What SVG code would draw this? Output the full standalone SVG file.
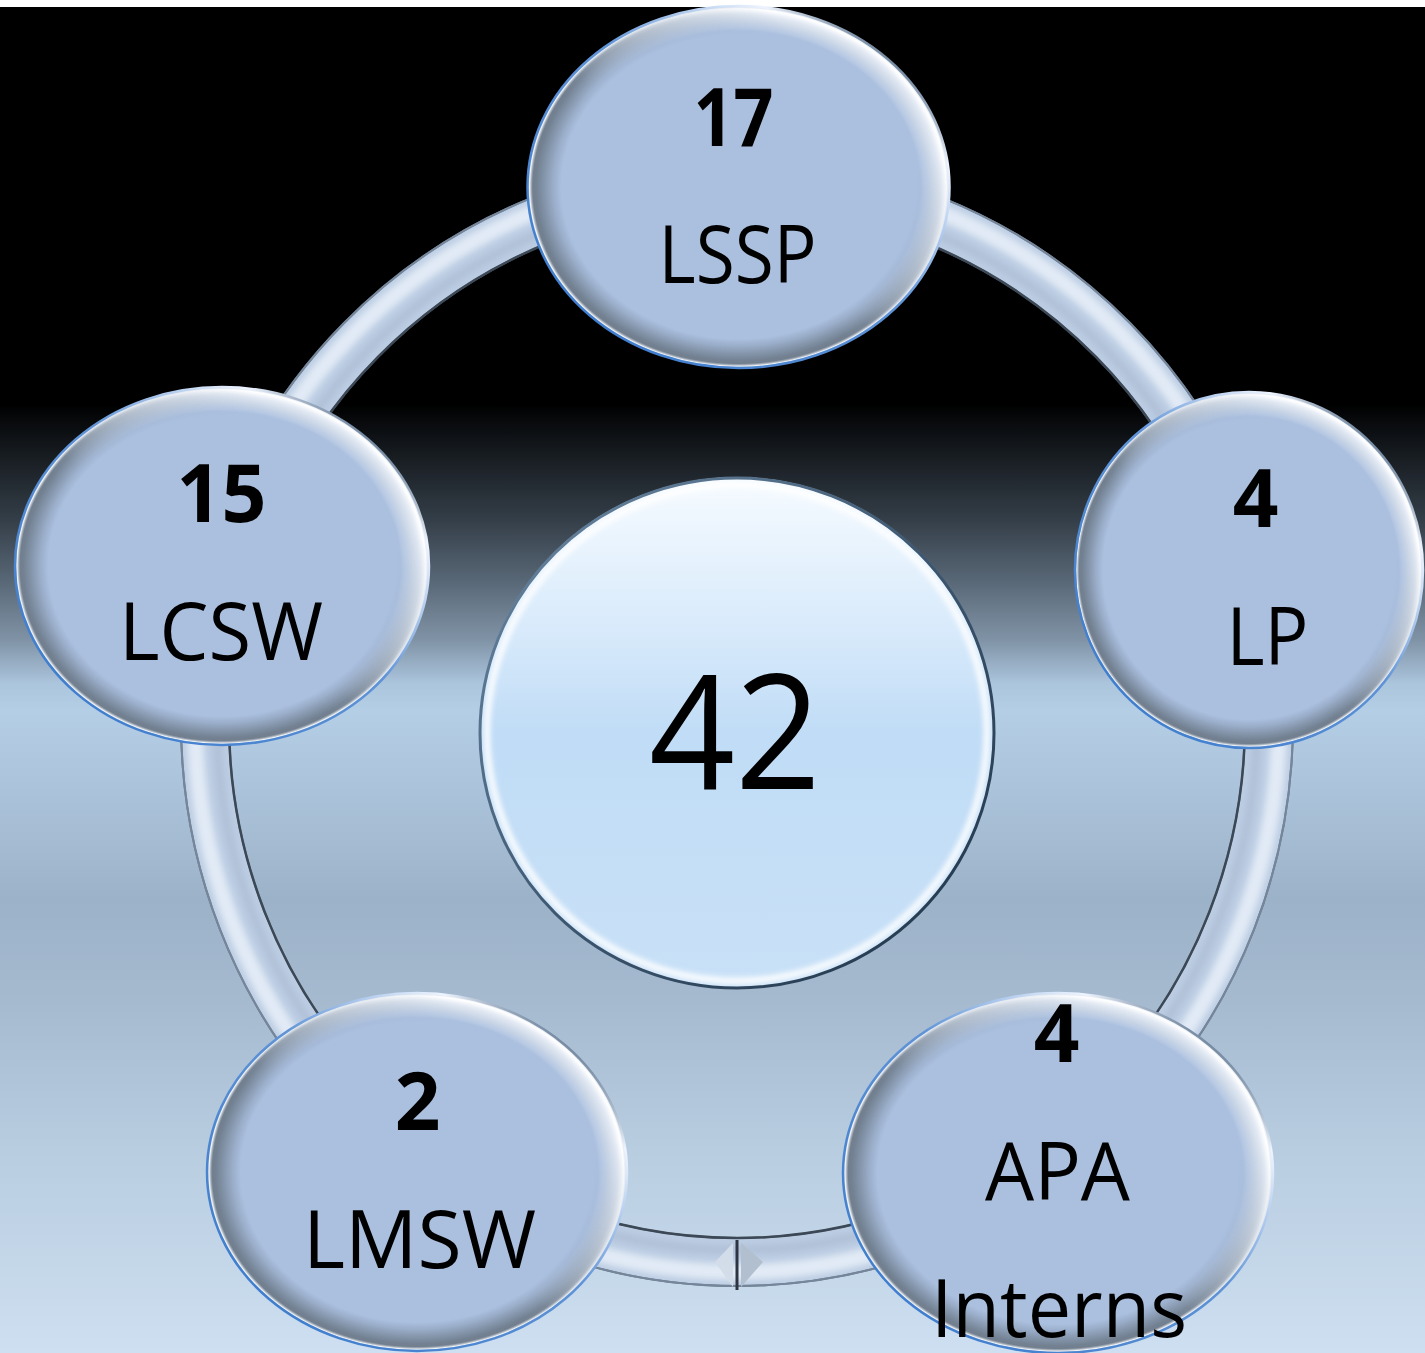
<svg xmlns="http://www.w3.org/2000/svg" width="1425" height="1353" viewBox="0 0 1425 1353">
  <defs>
    <!-- page backdrop: white strip, black top, banded fade to pale blue -->
    <linearGradient id="bg" gradientUnits="userSpaceOnUse" x1="0" y1="0" x2="0" y2="1353">
      <stop offset="0" stop-color="#000"/>
      <stop offset="0.299" stop-color="#000"/>
      <stop offset="0.31" stop-color="#07090b"/>
      <stop offset="0.347" stop-color="#1d2329"/>
      <stop offset="0.384" stop-color="#343e48"/>
      <stop offset="0.429" stop-color="#586776"/>
      <stop offset="0.473" stop-color="#8093a6"/>
      <stop offset="0.505" stop-color="#abc5dd"/>
      <stop offset="0.525" stop-color="#b4cee6"/>
      <stop offset="0.591" stop-color="#aac2d9"/>
      <stop offset="0.665" stop-color="#9cb2c8"/>
      <stop offset="0.739" stop-color="#a5bacf"/>
      <stop offset="0.85" stop-color="#b9cde1"/>
      <stop offset="1" stop-color="#cddff0"/>
    </linearGradient>

    <!-- small node body -->
    <radialGradient id="nodeFill" cx="0.5" cy="0.5" r="0.5">
      <stop offset="0" stop-color="#abc0df"/>
      <stop offset="0.88" stop-color="#abc0df"/>
      <stop offset="0.96" stop-color="#a2b3c8"/>
      <stop offset="1" stop-color="#c4d3e6"/>
    </radialGradient>
    <radialGradient id="rimLight" cx="0.5" cy="0.5" r="0.5">
      <stop offset="0" stop-color="#fff" stop-opacity="0"/>
      <stop offset="0.86" stop-color="#fff" stop-opacity="0"/>
      <stop offset="0.95" stop-color="#f4f8ff" stop-opacity="0.75"/>
      <stop offset="0.985" stop-color="#fff" stop-opacity="1"/>
      <stop offset="1" stop-color="#fff" stop-opacity="0.3"/>
    </radialGradient>
    <radialGradient id="rimDark" cx="0.5" cy="0.5" r="0.5">
      <stop offset="0" stop-color="#4b5866" stop-opacity="0"/>
      <stop offset="0.84" stop-color="#4b5866" stop-opacity="0"/>
      <stop offset="0.94" stop-color="#4b5866" stop-opacity="0.45"/>
      <stop offset="0.975" stop-color="#3f4a56" stop-opacity="0.55"/>
      <stop offset="0.99" stop-color="#fff" stop-opacity="0.8"/>
      <stop offset="1" stop-color="#fff" stop-opacity="0"/>
    </radialGradient>
    <linearGradient id="gTR" x1="0.1" y1="0.9" x2="0.9" y2="0.1">
      <stop offset="0" stop-color="#000"/>
      <stop offset="0.45" stop-color="#000"/>
      <stop offset="0.85" stop-color="#fff"/>
      <stop offset="1" stop-color="#fff"/>
    </linearGradient>
    <linearGradient id="gBL" x1="0.1" y1="0.9" x2="0.9" y2="0.1">
      <stop offset="0" stop-color="#fff"/>
      <stop offset="0.4" stop-color="#fff"/>
      <stop offset="0.8" stop-color="#000"/>
      <stop offset="1" stop-color="#000"/>
    </linearGradient>
    <mask id="mTR" maskContentUnits="objectBoundingBox">
      <rect x="0" y="0" width="1" height="1" fill="url(#gTR)"/>
    </mask>
    <mask id="mBL" maskContentUnits="objectBoundingBox">
      <rect x="0" y="0" width="1" height="1" fill="url(#gBL)"/>
    </mask>
    <linearGradient id="rimStroke" x1="0.1" y1="0.9" x2="0.9" y2="0.1">
      <stop offset="0" stop-color="#3d7ccd"/>
      <stop offset="0.55" stop-color="#5f93d6"/>
      <stop offset="0.85" stop-color="#eef4ff"/>
      <stop offset="1" stop-color="#2e4b6a"/>
    </linearGradient>

    <!-- hub -->
    <linearGradient id="hubFill" x1="0" y1="0" x2="0" y2="1">
      <stop offset="0" stop-color="#f6fbff"/>
      <stop offset="0.3" stop-color="#d8eafb"/>
      <stop offset="0.5" stop-color="#c0dcf6"/>
      <stop offset="1" stop-color="#c9e1f7"/>
    </linearGradient>
    <linearGradient id="hubRim" x1="0" y1="0" x2="1" y2="1">
      <stop offset="0" stop-color="#6c8aa6"/>
      <stop offset="0.5" stop-color="#3e5872"/>
      <stop offset="1" stop-color="#1f3346"/>
    </linearGradient>
    <filter id="soft" x="-5%" y="-5%" width="110%" height="110%">
      <feGaussianBlur stdDeviation="2.5"/>
    </filter>
    <filter id="softTube" x="-5%" y="-5%" width="110%" height="110%">
      <feGaussianBlur stdDeviation="3"/>
    </filter>
  </defs>

  <style>
    .body { fill: url(#nodeFill); }
    .lite { fill: url(#rimLight); mask: url(#mTR); }
    .dark { fill: url(#rimDark); mask: url(#mBL); }
    .rim  { fill: none; stroke: url(#rimStroke); stroke-width: 2.5; }
    .num  { font-family: "Open Sans", "Noto Sans", sans-serif; font-weight: 700; font-size: 80px; fill: #000; text-anchor: middle; }
    .lbl  { font-family: "Open Sans", "Noto Sans", sans-serif; font-weight: 400; font-size: 80px; fill: #000; text-anchor: middle; }
    .big  { font-family: "Open Sans", "Noto Sans", sans-serif; font-weight: 400; font-size: 160px; fill: #000; text-anchor: middle; }
    .tube-edge { fill: none; stroke: #66778a; stroke-width: 50; }
    .tube-body { fill: none; stroke: #bccde3; stroke-width: 46; }
  </style>

  <!-- backdrop -->
  <rect x="0" y="0" width="1425" height="1353" fill="url(#bg)"/>
  <rect x="0" y="0" width="1425" height="7" fill="#ffffff"/>

  <!-- connecting ring -->
  <g id="connectors">
    <ellipse class="tube-edge" cx="737" cy="722" rx="532" ry="540"/>
    <ellipse class="tube-body" cx="737" cy="722" rx="532" ry="540"/>
    <ellipse cx="737" cy="722" rx="542" ry="550" fill="none" stroke="#eef4fc" stroke-width="16" opacity="0.75" filter="url(#softTube)"/>
    <ellipse cx="737" cy="722" rx="520" ry="528" fill="none" stroke="#a7b8cf" stroke-width="8" opacity="0.6" filter="url(#softTube)"/>
    <ellipse cx="737" cy="722" rx="508" ry="516" fill="none" stroke="#3c4855" stroke-width="2.5"/>
    <ellipse cx="737" cy="722" rx="556" ry="564" fill="none" stroke="#76869a" stroke-width="2"/>
    <!-- joint at the bottom of the ring -->
    <polygon points="733,1243 715,1262 733,1287" fill="#d3dde9"/>
    <polygon points="741,1243 763,1262 741,1287" fill="#b2bfce"/>
    <line x1="737" y1="1240" x2="737" y2="1290" stroke="#2c3540" stroke-width="3"/>
  </g>

  <!-- hub node -->
  <g id="node-total">
    <ellipse cx="737" cy="733" rx="258" ry="256" fill="url(#hubFill)"/>
    <ellipse cx="737" cy="733" rx="250" ry="248" fill="none" stroke="#ffffff" stroke-width="7" opacity="0.85" filter="url(#soft)"/>
    <ellipse cx="737" cy="733" rx="257" ry="255" fill="none" stroke="url(#hubRim)" stroke-width="3"/>
    <text class="big" x="735" y="789" textLength="172" lengthAdjust="spacingAndGlyphs">42</text>
  </g>

  <g id="node-lssp">
    <ellipse class="body" cx="738.5" cy="187" rx="211" ry="181"/>
    <ellipse class="dark" cx="738.5" cy="187" rx="211" ry="181"/>
    <ellipse class="lite" cx="738.5" cy="187" rx="211" ry="181"/>
    <ellipse class="rim" cx="738.5" cy="187" rx="211" ry="181"/>
    <text class="num" x="733.5" y="146" textLength="80" lengthAdjust="spacingAndGlyphs">17</text>
    <text class="lbl" x="737.5" y="283" textLength="158" lengthAdjust="spacingAndGlyphs">LSSP</text>
  </g>

  <g id="node-lcsw">
    <ellipse class="body" cx="222" cy="566" rx="207" ry="179"/>
    <ellipse class="dark" cx="222" cy="566" rx="207" ry="179"/>
    <ellipse class="lite" cx="222" cy="566" rx="207" ry="179"/>
    <ellipse class="rim" cx="222" cy="566" rx="207" ry="179"/>
    <text class="num" x="221.5" y="522" textLength="90" lengthAdjust="spacingAndGlyphs">15</text>
    <text class="lbl" x="221" y="660" textLength="204" lengthAdjust="spacingAndGlyphs">LCSW</text>
  </g>

  <g id="node-lp">
    <ellipse class="body" cx="1249" cy="570" rx="174" ry="178"/>
    <ellipse class="dark" cx="1249" cy="570" rx="174" ry="178"/>
    <ellipse class="lite" cx="1249" cy="570" rx="174" ry="178"/>
    <ellipse class="rim" cx="1249" cy="570" rx="174" ry="178"/>
    <text class="num" x="1255.5" y="527">4</text>
    <text class="lbl" x="1267.5" y="665" textLength="82" lengthAdjust="spacingAndGlyphs">LP</text>
  </g>

  <g id="node-lmsw">
    <ellipse class="body" cx="417" cy="1172" rx="210" ry="179"/>
    <ellipse class="dark" cx="417" cy="1172" rx="210" ry="179"/>
    <ellipse class="lite" cx="417" cy="1172" rx="210" ry="179"/>
    <ellipse class="rim" cx="417" cy="1172" rx="210" ry="179"/>
    <text class="num" x="417.5" y="1130">2</text>
    <text class="lbl" x="419.5" y="1268" textLength="233" lengthAdjust="spacingAndGlyphs">LMSW</text>
  </g>

  <g id="node-apa">
    <ellipse class="body" cx="1058" cy="1173" rx="215" ry="180"/>
    <ellipse class="dark" cx="1058" cy="1173" rx="215" ry="180"/>
    <ellipse class="lite" cx="1058" cy="1173" rx="215" ry="180"/>
    <ellipse class="rim" cx="1058" cy="1173" rx="215" ry="180"/>
    <text class="num" x="1056.5" y="1062">4</text>
    <text class="lbl" x="1057.5" y="1200" textLength="145" lengthAdjust="spacingAndGlyphs">APA</text>
    <text class="lbl" x="1059" y="1337" textLength="256" lengthAdjust="spacingAndGlyphs">Interns</text>
  </g>
</svg>
